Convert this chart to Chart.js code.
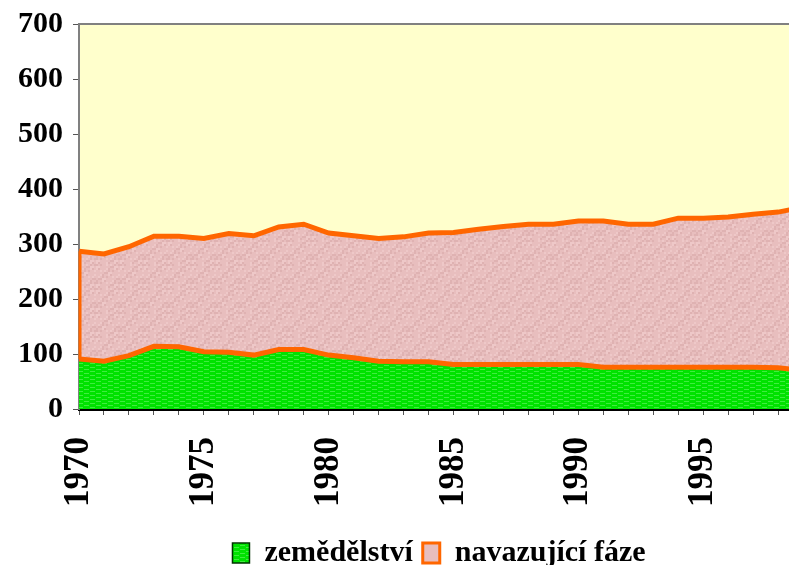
<!DOCTYPE html>
<html lang="cs">
<head>
<meta charset="UTF-8">
<title>Zemědělství a navazující fáze</title>
<script src="https://cdn.jsdelivr.net/npm/chart.js"></script>
<style>
  html, body { margin: 0; padding: 0; background: #fff; overflow: hidden; }
  #wrap { width: 878px; height: 565px; }
</style>
</head>
<body>
<div id="wrap"><canvas id="chart" width="878" height="565"></canvas></div>
<script>
// values (stacked: green bottom, pink on top)
const years = [1970, 1971, 1972, 1973, 1974, 1975, 1976, 1977, 1978, 1979,
               1980, 1981, 1982, 1983, 1984, 1985, 1986, 1987, 1988, 1989,
               1990, 1991, 1992, 1993, 1994, 1995, 1996, 1997, 1998, 1999];
const zemedelstvi = [91, 87, 97, 114, 113, 104, 103, 98, 108, 108,
                     98, 93, 87, 86, 86, 81, 81, 81, 81, 81,
                     81, 76, 76, 76, 76, 76, 76, 76, 75, 70];
const navazujici = [196, 195, 198, 200, 201, 206, 216, 217, 223, 228,
                    222, 222, 223, 227, 234, 240, 246, 251, 255, 255,
                    261, 266, 260, 260, 271, 271, 273, 278, 283, 297];
const yTicks = [0, 100, 200, 300, 400, 500, 600, 700];
const labelYears = [1970, 1975, 1980, 1985, 1990, 1995, 2000];

const ORANGE = '#ff6600';
const FONT = '"Liberation Serif", "Times New Roman", serif';

function greenPattern() {
    const c = document.createElement('canvas');
    c.width = 12; c.height = 4;
    const g = c.getContext('2d');
    g.fillStyle = '#00e200';
    g.fillRect(0, 0, 12, 4);
    g.fillStyle = 'rgba(140,250,140,0.45)';
    g.fillRect(0, 1, 5, 1);
    g.fillRect(6, 3, 5, 1);
    return g.createPattern(c, 'repeat');
}

function pinkPattern() {
    const c = document.createElement('canvas');
    c.width = 24; c.height = 24;
    const g = c.getContext('2d');
    g.fillStyle = '#e8bebe';
    g.fillRect(0, 0, 24, 24);
    for (let y = 0; y < 24; y += 2) {
        for (let x = 0; x < 24; x += 2) {
            const h = (x * 7 + y * 13 + x * y * 3) % 9;
            if (h < 2) g.fillStyle = '#dfb2b2';
            else if (h > 6) g.fillStyle = '#eec8c8';
            else continue;
            g.fillRect(x, y, 2, 2);
        }
    }
    return g.createPattern(c, 'repeat');
}

const greenFill = greenPattern();
const pinkFill = pinkPattern();

// pale yellow plot background, top frame line, orange left edge of the area
const plotFrame = {
    id: 'plotFrame',
    beforeDraw(chart) {
        const { ctx, chartArea: a } = chart;
        ctx.save();
        ctx.fillStyle = '#ffffcc';
        ctx.fillRect(a.left, a.top, a.right - a.left, a.bottom - a.top);
        ctx.restore();
    },
    afterDatasetsDraw(chart) {
        const { ctx, chartArea: a, scales } = chart;
        const x = scales.x.getPixelForValue(years[0]);
        ctx.save();
        ctx.strokeStyle = ORANGE;
        ctx.lineWidth = 3;
        ctx.beginPath();
        ctx.moveTo(x + 1, scales.y.getPixelForValue(zemedelstvi[0] + navazujici[0]));
        ctx.lineTo(x + 1, scales.y.getPixelForValue(zemedelstvi[0]));
        ctx.stroke();
        ctx.strokeStyle = '#808080';
        ctx.lineWidth = 2;
        ctx.beginPath();
        ctx.moveTo(a.left, a.top);
        ctx.lineTo(a.right, a.top);
        ctx.stroke();
        ctx.restore();
    }
};

new Chart(document.getElementById('chart'), {
    type: 'line',
    data: {
        datasets: [{
            label: 'zemědělství',
            data: years.map((y, i) => ({ x: y, y: zemedelstvi[i] })),
            backgroundColor: greenFill,
            borderColor: ORANGE,
            borderWidth: 5,
            fill: 'origin',
            pointRadius: 0,
            tension: 0
        }, {
            label: 'navazující fáze',
            data: years.map((y, i) => ({ x: y, y: navazujici[i] })),
            backgroundColor: pinkFill,
            borderColor: ORANGE,
            borderWidth: 5,
            fill: '-1',
            pointRadius: 0,
            tension: 0
        }]
    },
    options: {
        responsive: false,
        animation: false,
        devicePixelRatio: 1,
        layout: { padding: { top: 24, left: 0, right: 0, bottom: -13 } },
        scales: {
            x: {
                type: 'linear',
                min: 1970,
                max: 2002,
                z: 1,
                border: { color: '#000', width: 3 },
                grid: { drawOnChartArea: false, drawTicks: true, tickLength: 6, color: '#555' },
                ticks: {
                    stepSize: 1,
                    includeBounds: false,
                    autoSkip: false,
                    minRotation: 90,
                    maxRotation: 90,
                    padding: 22,
                    color: '#000',
                    font: { family: FONT, size: 35, weight: 'bold' },
                    callback: v => labelYears.includes(v) ? String(v) : ''
                },
                afterFit: s => { s.height = 119; s.paddingLeft = 0; s.paddingRight = 0; }
            },
            y: {
                stacked: true,
                min: 0,
                max: 700,
                border: { color: '#808080', width: 2 },
                grid: { drawOnChartArea: false, drawTicks: true, tickLength: 6, color: '#555' },
                afterBuildTicks: s => { s.ticks = yTicks.map(v => ({ value: v })); },
                ticks: {
                    padding: 10,
                    color: '#000',
                    font: { family: FONT, size: 30, weight: 'bold' }
                },
                afterFit: s => { s.width = 79; s.paddingTop = 0; s.paddingBottom = 0; }
            }
        },
        plugins: {
            tooltip: { enabled: false },
            legend: {
                position: 'bottom',
                labels: {
                    boxWidth: 17,
                    boxHeight: 20,
                    padding: 10,
                    color: '#000',
                    font: { family: FONT, size: 30, weight: 'bold' },
                    generateLabels: () => [
                        { text: 'zemědělství', fillStyle: greenFill, strokeStyle: '#003300', lineWidth: 1.5, datasetIndex: 0 },
                        { text: 'navazující fáze', fillStyle: '#e8bebe', strokeStyle: ORANGE, lineWidth: 3, datasetIndex: 1 }
                    ]
                }
            }
        }
    },
    plugins: [plotFrame]
});
</script>
</body>
</html>
